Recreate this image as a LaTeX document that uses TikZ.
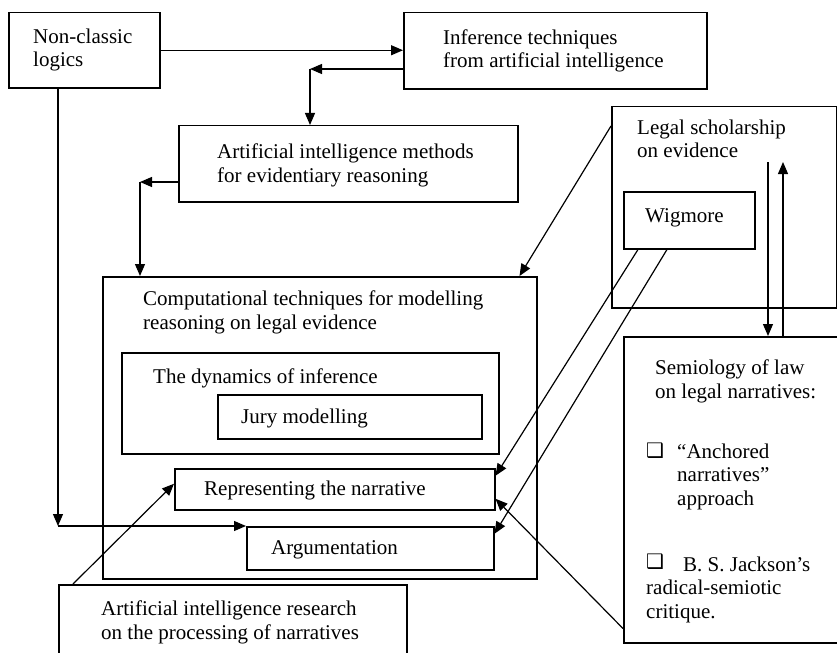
\documentclass[tikz,border=0pt]{standalone}
\usepackage{fontspec}
\setmainfont{Liberation Serif}
\newfontfamily\symfont{DejaVu Sans}
\usetikzlibrary{arrows.meta}

\begin{document}
\begin{tikzpicture}[x=1bp,y=-1bp,
  box/.style={draw, line width=1.5bp, anchor=north west, inner sep=0pt},
  lbl/.style={anchor=base west, inner sep=0pt, align=left,
    font=\fontsize{21bp}{23.5bp}\selectfont},
  cbx/.style={anchor=base west, inner sep=0pt, font=\symfont\fontsize{20bp}{22bp}\selectfont},
  arr/.style={line width=1.2bp, -{Triangle[length=12bp,width=10bp]}}]
\useasboundingbox (0,0) rectangle (837,653);
\clip (0,0) rectangle (837,653);

% frames
\node[box, minimum width=151bp, minimum height=75bp] (ncl) at (8,12) {};
\node[box, minimum width=303bp, minimum height=76bp] (inf) at (403,12) {};
\node[box, minimum width=339bp, minimum height=76bp] (aim) at (178,125) {};
\node[box, minimum width=225bp, minimum height=201bp] (leg) at (611,106) {};
\node[box, minimum width=131bp, minimum height=57bp] (wig) at (623,191) {};
\node[box, minimum width=434bp, minimum height=302bp] (comp) at (102,276) {};
\node[box, minimum width=377bp, minimum height=101bp] (dyn) at (121,352) {};
\node[box, minimum width=264bp, minimum height=44bp] (jury) at (217,394) {};
\node[box, minimum width=320bp, minimum height=41bp] (rep) at (174,468) {};
\node[box, minimum width=247bp, minimum height=43bp] (arg) at (246,526) {};
\node[box, minimum width=348bp, minimum height=90bp] (airs) at (58,584) {};
\node[box, minimum width=230bp, minimum height=306bp] (sem) at (623,336) {};

% labels (multi-line labels sit on the baseline of their last line)
\node[lbl] (t-ncl) at (33,67) {Non-classic\\logics};
\node[lbl] (t-inf) at (443,68) {Inference techniques\\from artificial intelligence};
\node[lbl] (t-aim) at (217,182) {Artificial intelligence methods\\for evidentiary reasoning};
\node[lbl] (t-leg) at (637,158) {Legal scholarship\\on evidence};
\node[lbl] (t-wig) at (645,222) {Wigmore};
\node[lbl] (t-comp) at (143,329) {Computational techniques for modelling\\reasoning on legal evidence};
\node[lbl] (t-dyn) at (153,383) {The dynamics of inference};
\node[lbl] (t-jury) at (241,423) {Jury modelling};
\node[lbl] (t-rep) at (204,495) {Representing the narrative};
\node[lbl] (t-arg) at (271,554) {Argumentation};
\node[lbl] (t-airs) at (101,639) {Artificial intelligence research\\on the processing of narratives};
\node[lbl] (t-sem) at (655,398) {Semiology of law\\on legal narratives:};
\node[cbx] (cb1) at (646,457) {❑};
\node[lbl] (t-anc) at (677,505) {“Anchored\\narratives”\\approach};
\node[cbx] (cb2) at (646,568) {❑};
\node[lbl] (t-jack) at (646,618) {\hspace{37bp}B. S. Jackson’s\\radical-semiotic\\critique.};

% corner points of the elbow connectors
\coordinate (c1) at (310,69);
\coordinate (c2) at (140,182);
\coordinate (c3) at (58,526);
\coordinate (d1) at (768,162);
\coordinate (d2) at (783,162);

% connectors
\draw[arr] (ncl.east) -- (ncl.east -| inf.west);
\draw[arr] (inf.west |- c1) -- (c1);
\draw[arr] (c1) -- (c1 |- aim.north);
\draw[arr] (aim.west |- c2) -- (c2);
\draw[arr] (c2) -- (c2 |- comp.north);
\draw[arr] (ncl.south -| c3) -- (c3);
\draw[arr] (c3) -- (arg.north west);
\draw[arr] ([yshift=-20bp]leg.north west) -- ([xshift=-18bp]comp.north east);
\draw[arr] ([xshift=15bp]wig.south west) -- ([yshift=13.5bp]rep.east);
\draw[arr] ([xshift=44bp]wig.south west) -- ([yshift=14.5bp]arg.east);
\draw[arr] ([yshift=15bp]sem.south west) -- ([yshift=-9.5bp]rep.east);
\draw[arr] ([xshift=15bp]airs.north west) -- ([yshift=5.5bp]rep.west);
\draw[arr] (d1) -- (d1 |- sem.north);
\draw[arr] (d2 |- sem.north) -- (d2);
\end{tikzpicture}
\end{document}
